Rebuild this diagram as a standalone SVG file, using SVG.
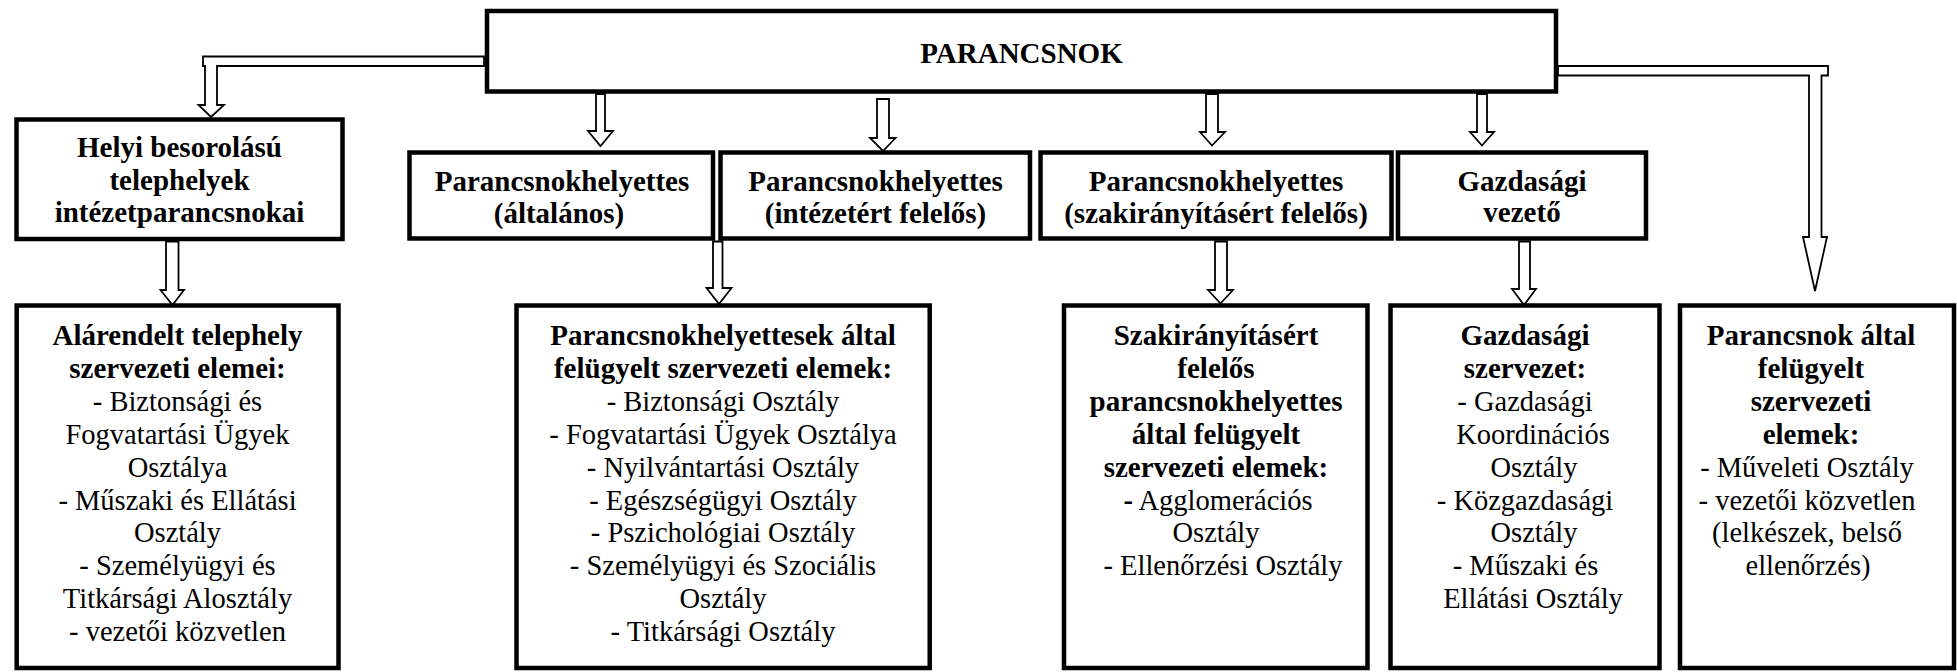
<svg xmlns="http://www.w3.org/2000/svg" width="1957" height="672" viewBox="0 0 1957 672">
<style>
.box{fill:#fff;stroke:#000;stroke-width:4.5}
.arr{fill:#fff;stroke:#000;stroke-width:1.8;stroke-linejoin:miter}
text{font-family:"Liberation Serif","Times New Roman",serif;text-anchor:middle;fill:#000}
.b{font-weight:bold;font-size:29px}
.r{font-weight:normal;font-size:28.5px}
</style>
<rect width="1957" height="672" fill="#fff"/>
<g id="connectors">
<path class="arr" d="M484,56.5 H203 V66 H205 V105 H198.5 L211,117 L224,105 H217 V66 H484 Z"/>
<path class="arr" d="M1558,66 H1828 V75.5 H1821.5 V237 H1827 L1815,291 L1803,237 H1809 V75.5 H1558 Z"/>
<path class="arr" d="M596,94 V131 H588 L600.5,146 L613,131 H605 V94 Z"/>
<path class="arr" d="M877,99 V138 H870 L883,151 L895.5,138 H889 V99 Z"/>
<path class="arr" d="M1206,94 V132 H1200 L1212,145.5 L1225,132 H1218 V94 Z"/>
<path class="arr" d="M1477,94 V132 H1470 L1482,145.5 L1494,132 H1487 V94 Z"/>
<path class="arr" d="M166,241.5 V290 H160.5 L172.5,305 L184,290 H178.5 V241.5 Z"/>
<path class="arr" d="M713,241.5 V288 H706.5 L719,304 L731.5,288 H722.5 V241.5 Z"/>
<path class="arr" d="M1215,241.5 V290 H1208 L1220.5,303.5 L1233,290 H1227 V241.5 Z"/>
<path class="arr" d="M1519,241.5 V289 H1512 L1524,305 L1536,289 H1530 V241.5 Z"/>
</g>
<g id="parancsnok">
<rect class="box" x="487" y="11" width="1069" height="80.5"/>
<text class="b" x="1021.5" y="63">PARANCSNOK</text>
</g>
<g id="helyi">
<rect class="box" x="16.5" y="119.5" width="326" height="119.5"/>
<text class="b"><tspan x="179.5" y="157">Helyi besorolású</tspan><tspan x="179.5" y="189.5">telephelyek</tspan><tspan x="179.5" y="222">intézetparancsnokai</tspan></text>
</g>
<g id="ph-altalanos">
<rect class="box" x="409.5" y="152.5" width="303.5" height="86"/>
<text class="b"><tspan x="562" y="190.5">Parancsnokhelyettes</tspan><tspan x="559" y="222.5">(általános)</tspan></text>
</g>
<g id="ph-intezet">
<rect class="box" x="720.5" y="152.5" width="309.5" height="86"/>
<text class="b"><tspan x="875.5" y="190.5">Parancsnokhelyettes</tspan><tspan x="875.5" y="222.5">(intézetért felelős)</tspan></text>
</g>
<g id="ph-szak">
<rect class="box" x="1040.5" y="152.5" width="351" height="86"/>
<text class="b"><tspan x="1216" y="190.5">Parancsnokhelyettes</tspan><tspan x="1216" y="222.5">(szakirányításért felelős)</tspan></text>
</g>
<g id="gazd-vezeto">
<rect class="box" x="1398" y="152.5" width="248" height="86"/>
<text class="b"><tspan x="1522" y="190.5">Gazdasági</tspan><tspan x="1522" y="222">vezető</tspan></text>
</g>
<g id="alarendelt">
<rect class="box" x="16.7" y="305.5" width="321.8" height="362.5"/>
<text class="b"><tspan x="177.5" y="345">Alárendelt telephely</tspan><tspan x="177.5" y="377.9">szervezeti elemei:</tspan></text>
<text class="r"><tspan x="177.5" y="410.8">- Biztonsági és</tspan><tspan x="177.5" y="443.7">Fogvatartási Ügyek</tspan><tspan x="177.5" y="476.6">Osztálya</tspan><tspan x="177.5" y="509.5">- Műszaki és Ellátási</tspan><tspan x="177.5" y="542.4">Osztály</tspan><tspan x="177.5" y="575.3">- Személyügyi és</tspan><tspan x="177.5" y="608.2">Titkársági Alosztály</tspan><tspan x="177.5" y="641.1">- vezetői közvetlen</tspan></text>
</g>
<g id="ph-elemek">
<rect class="box" x="516.5" y="305.5" width="413.2" height="362.5"/>
<text class="b"><tspan x="723" y="345">Parancsnokhelyettesek által</tspan><tspan x="723" y="377.9">felügyelt szervezeti elemek:</tspan></text>
<text class="r"><tspan x="723" y="410.8">- Biztonsági Osztály</tspan><tspan x="723" y="443.7">- Fogvatartási Ügyek Osztálya</tspan><tspan x="723" y="476.6">- Nyilvántartási Osztály</tspan><tspan x="723" y="509.5">- Egészségügyi Osztály</tspan><tspan x="723" y="542.4">- Pszichológiai Osztály</tspan><tspan x="723" y="575.3">- Személyügyi és Szociális</tspan><tspan x="723" y="608.2">Osztály</tspan><tspan x="723" y="641.1">- Titkársági Osztály</tspan></text>
</g>
<g id="szak-elemek">
<rect class="box" x="1064" y="305.5" width="303.5" height="362.5"/>
<text class="b"><tspan x="1216" y="345">Szakirányításért</tspan><tspan x="1216" y="377.9">felelős</tspan><tspan x="1216" y="410.8">parancsnokhelyettes</tspan><tspan x="1216" y="443.7">által felügyelt</tspan><tspan x="1216" y="476.6">szervezeti elemek:</tspan></text>
<text class="r"><tspan x="1218" y="509.5"><tspan font-weight="bold">-</tspan> Agglomerációs</tspan><tspan x="1216" y="542.4">Osztály</tspan><tspan x="1223" y="575.3">- Ellenőrzési Osztály</tspan></text>
</g>
<g id="gazd-szervezet">
<rect class="box" x="1390.5" y="305.5" width="269" height="362.5"/>
<text class="b"><tspan x="1525" y="345">Gazdasági</tspan><tspan x="1525" y="377.9">szervezet:</tspan></text>
<text class="r"><tspan x="1525" y="410.8">- Gazdasági</tspan><tspan x="1533" y="443.7">Koordinációs</tspan><tspan x="1534" y="476.6">Osztály</tspan><tspan x="1525" y="509.5">- Közgazdasági</tspan><tspan x="1534" y="542.4">Osztály</tspan><tspan x="1525.5" y="575.3">- Műszaki és</tspan><tspan x="1533" y="608.2">Ellátási Osztály</tspan></text>
</g>
<g id="parancsnok-elemek">
<rect class="box" x="1680" y="305.5" width="274" height="362.5"/>
<text class="b"><tspan x="1811" y="345">Parancsnok által</tspan><tspan x="1811" y="377.9">felügyelt</tspan><tspan x="1811" y="410.8">szervezeti</tspan><tspan x="1811" y="443.7">elemek:</tspan></text>
<text class="r"><tspan x="1807" y="476.6">- Műveleti Osztály</tspan><tspan x="1807" y="509.5">- vezetői közvetlen</tspan><tspan x="1807" y="542.4">(lelkészek, belső</tspan><tspan x="1808" y="575.3">ellenőrzés)</tspan></text>
</g>
</svg>
